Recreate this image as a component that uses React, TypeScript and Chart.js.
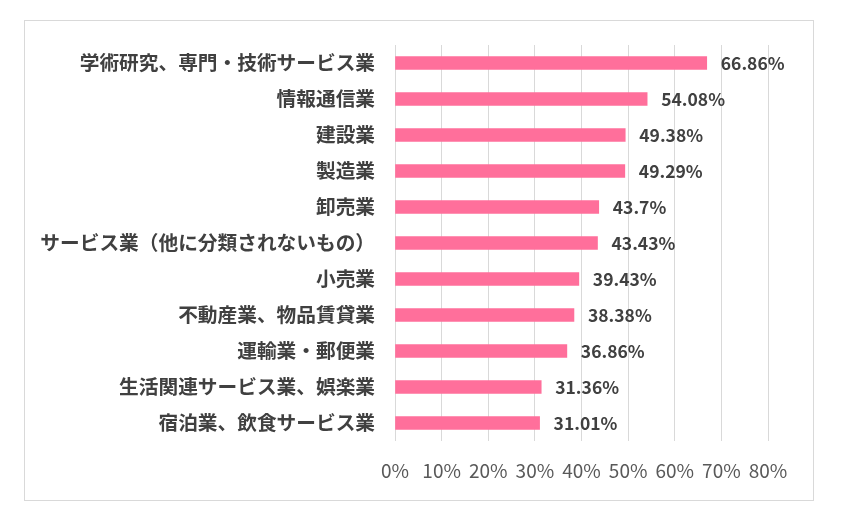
import { useEffect, useRef } from "react";
import { Chart, registerables } from "chart.js";

Chart.register(...registerables);

const industries = [
  "学術研究、専門・技術サービス業",
  "情報通信業",
  "建設業",
  "製造業",
  "卸売業",
  "サービス業（他に分類されないもの）",
  "小売業",
  "不動産業、物品賃貸業",
  "運輸業・郵便業",
  "生活関連サービス業、娯楽業",
  "宿泊業、飲食サービス業",
];

const rates = [66.86, 54.08, 49.38, 49.29, 43.7, 43.43, 39.43, 38.38, 36.86, 31.36, 31.01];

const FONT = "'Noto Sans CJK JP', 'Noto Sans', sans-serif";

const valueLabels = {
  id: "valueLabels",
  afterDatasetsDraw(chart: Chart) {
    const ctx = chart.ctx;
    const meta = chart.getDatasetMeta(0);
    ctx.save();
    ctx.font = `bold 17.5px ${FONT}`;
    ctx.fillStyle = "#404040";
    ctx.textAlign = "left";
    ctx.textBaseline = "middle";
    meta.data.forEach((bar: any, i: number) => {
      ctx.fillText(`${rates[i]}%`, bar.x + 14, bar.y);
    });
    ctx.restore();
  },
};

export default function App() {
  const canvasRef = useRef<HTMLCanvasElement>(null);
  const chartRef = useRef<Chart | null>(null);

  useEffect(() => {
    const ctx = canvasRef.current?.getContext("2d");
    if (!ctx) return;

    chartRef.current?.destroy();
    chartRef.current = new Chart(ctx, {
      type: "bar",
      data: {
        labels: industries,
        datasets: [
          {
            data: rates,
            backgroundColor: "#FF6F9B",
            barThickness: 13,
          },
        ],
      },
      options: {
        indexAxis: "y",
        responsive: true,
        maintainAspectRatio: false,
        animation: false,
        layout: { padding: { top: 24, right: 45, left: 0, bottom: 0 } },
        plugins: { legend: { display: false }, tooltip: { enabled: false } },
        scales: {
          x: {
            min: 0,
            max: 80,
            ticks: {
              stepSize: 10,
              padding: 18,
              color: "#595959",
              font: { family: FONT, size: 19 },
              callback: (v) => `${v}%`,
            },
            grid: { color: "#d9d9d9", drawTicks: false },
            border: { display: false },
            afterFit: (s: any) => {
              s.height = 59;
              s.paddingLeft = 0;
              s.paddingRight = 0;
            },
          },
          y: {
            ticks: {
              padding: 20,
              color: "#404040",
              font: { family: FONT, size: 19.7, weight: "bold" },
            },
            grid: { display: false, drawTicks: false },
            border: { display: false },
            afterFit: (s: any) => {
              s.width = 370;
              s.paddingTop = 0;
              s.paddingBottom = 0;
            },
          },
        },
      },
      plugins: [valueLabels],
    });

    return () => {
      chartRef.current?.destroy();
      chartRef.current = null;
    };
  }, []);

  return (
    <div
      style={{
        position: "absolute",
        left: 24,
        top: 20,
        width: 790,
        height: 481,
        border: "1px solid #d9d9d9",
        boxSizing: "border-box",
        background: "#fff",
      }}
    >
      <div style={{ position: "relative", width: "100%", height: "100%" }}>
        <canvas ref={canvasRef} />
      </div>
    </div>
  );
}
